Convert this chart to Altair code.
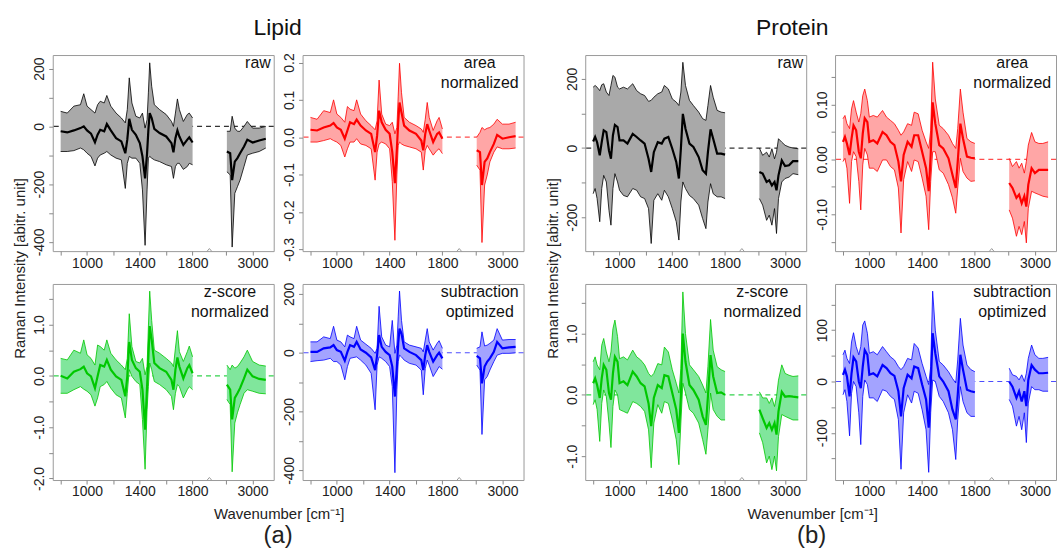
import altair as alt
import pandas as pd

# ---------------- data ----------------
LIPID_WN = [800, 850, 900, 950, 975, 1000, 1030, 1060, 1080, 1100, 1130, 1150, 1180,
            1220, 1260, 1290, 1305, 1320, 1340, 1370, 1400, 1420, 1440, 1455, 1465,
            1475, 1490, 1510, 1550, 1600, 1640, 1655, 1670, 1685, 1700, 1730, 1760,
            1775, 1800,
            2805, 2830, 2845, 2865, 2885, 2905, 2935, 2960, 3000, 3050, 3100]

PROTEIN_WN = [800, 815, 830, 850, 865, 880, 900, 920, 935, 950, 965, 985, 1000, 1030,
              1060, 1100, 1130, 1160, 1190, 1220, 1240, 1260, 1290, 1320, 1340, 1370,
              1400, 1430, 1450, 1465, 1480, 1500, 1530, 1560, 1600, 1630, 1655, 1670,
              1690, 1710, 1740, 1770, 1800,
              2805, 2830, 2860, 2880, 2900, 2920, 2935, 2950, 2975, 3000, 3030, 3060, 3100]

# Lipid - raw
lipid_raw_mean = [-17, -21, -14, -6, 0, -14, -25, -55, -29, -12, -17, 8, -14, -41, -52, -93, -46, 26, -12, -29,
                  -58, -104, -180, -93, -12, 46, 29, -9, -23, -35, -58, -90, -41, -14, -35, -64, -46, -38, -56,
                  -87, -93, -186, -122, -110, -93, -70, -46, -56, -49, -43]
lipid_raw_upper = [52, 46, 70, 75, 113, 70, 58, 46, 75, 87, 81, 107, 70, 46, 29, 12, 58, 168, 81, 35,
                   29, 46, -6, 23, 116, 220, 139, 75, 58, 41, 17, 0, 46, 95, 58, 17, 41, 46, 29,
                   -17, -17, 35, -6, -17, -17, 0, 17, -6, -6, 0]
lipid_raw_lower = [-87, -87, -84, -75, -81, -93, -104, -137, -110, -99, -93, -87, -99, -110, -116, -215, -128, -104, -110, -110,
                   -128, -220, -412, -220, -110, -104, -110, -116, -122, -133, -139, -180, -139, -128, -128, -149, -139, -128, -133,
                   -157, -168, -418, -232, -209, -186, -139, -99, -93, -87, -75]

# Lipid - area normalized
lipid_area_mean = [0.020, 0.018, 0.026, 0.031, 0.038, 0.026, 0.020, -0.004, 0.018, 0.040, 0.035, 0.047, 0.031, 0.018,
                   0.009, -0.040, 0.004, 0.071, 0.040, 0.020, 0.009, -0.040, -0.123, -0.031, 0.040, 0.093, 0.066,
                   0.031, 0.018, 0.009, -0.009, -0.035, 0.009, 0.035, 0.018, -0.013, 0.009, 0.013, -0.004,
                   -0.035, -0.040, -0.128, -0.066, -0.057, -0.040, -0.018, 0.006, -0.004, 0.000, 0.003]
lipid_area_upper = [0.053, 0.048, 0.071, 0.066, 0.100, 0.062, 0.053, 0.040, 0.082, 0.075, 0.071, 0.100, 0.062, 0.044,
                    0.031, 0.020, 0.044, 0.153, 0.062, 0.035, 0.031, 0.040, 0.009, 0.026, 0.110, 0.198, 0.119,
                    0.053, 0.040, 0.031, 0.022, 0.013, 0.048, 0.093, 0.053, 0.018, 0.044, 0.053, 0.022,
                    0.000, 0.013, 0.026, 0.020, 0.024, 0.026, 0.035, 0.048, 0.035, 0.035, 0.040]
lipid_area_lower = [-0.013, -0.013, -0.009, -0.004, -0.009, -0.013, -0.022, -0.053, -0.031, -0.013, -0.013, -0.004, -0.018,
                    -0.022, -0.031, -0.115, -0.040, -0.018, -0.013, -0.018, -0.031, -0.119, -0.276, -0.101, -0.022,
                    -0.013, -0.018, -0.022, -0.026, -0.031, -0.040, -0.088, -0.035, -0.022, -0.031, -0.048, -0.035,
                    -0.031, -0.044,
                    -0.075, -0.088, -0.282, -0.128, -0.101, -0.066, -0.040, -0.026, -0.031, -0.031, -0.029]

# Lipid - z-score normalized
lipid_z_mean = [0.00, -0.05, 0.08, 0.13, 0.18, 0.05, -0.01, -0.24, -0.01, 0.21, 0.18, 0.31, 0.12, -0.01, -0.08,
                -0.40, -0.01, 0.66, 0.31, 0.15, 0.08, -0.27, -1.05, -0.21, 0.37, 0.97, 0.70, 0.25, 0.15, 0.08,
                -0.08, -0.27, 0.12, 0.36, 0.18, -0.05, 0.15, 0.21, 0.05,
                -0.17, -0.27, -0.85, -0.43, -0.34, -0.24, -0.05, 0.12, -0.01, -0.06, -0.08]
lipid_z_upper = [0.34, 0.31, 0.50, 0.44, 0.70, 0.41, 0.34, 0.21, 0.60, 0.57, 0.50, 0.70, 0.44, 0.31, 0.21,
                 0.12, 0.34, 1.21, 0.57, 0.28, 0.25, 0.34, 0.02, 0.18, 0.95, 1.65, 1.08, 0.50, 0.44, 0.34,
                 0.25, 0.18, 0.54, 0.88, 0.47, 0.28, 0.47, 0.58, 0.37,
                 0.21, 0.12, 0.21, 0.15, 0.18, 0.25, 0.37, 0.50, 0.28, 0.21, 0.19]
lipid_z_lower = [-0.34, -0.34, -0.27, -0.21, -0.26, -0.30, -0.37, -0.59, -0.43, -0.21, -0.17, -0.11, -0.24, -0.37,
                 -0.43, -0.82, -0.34, 0.12, -0.01, -0.11, -0.17, -0.85, -1.82, -0.66, -0.21, 0.25, 0.12, -0.11,
                 -0.17, -0.27, -0.40, -0.66, -0.34, -0.17, -0.21, -0.43, -0.27, -0.21, -0.27,
                 -0.46, -0.56, -1.87, -0.92, -0.72, -0.56, -0.34, -0.27, -0.30, -0.34, -0.35]

# Lipid - subtraction optimized
lipid_sub_mean = [3, 3, 15, 18, 26, 9, 3, -27, 3, 26, 20, 37, 11, 0, -16, -59, -8, 60, 20, 3,
                  -8, -47, -149, -47, 32, 82, 65, 15, 3, -8, -25, -59, -8, 26, 3, -30, -8, 0, -19,
                  -11, -19, -104, -47, -30, -19, 3, 37, 15, 18, 20]
lipid_sub_upper = [37, 37, 54, 48, 90, 43, 37, 20, 60, 54, 48, 90, 43, 29, 15, -2, 15, 158, 54, 26,
                   20, 110, -2, 26, 122, 210, 110, 37, 26, 20, 15, 3, 43, 82, 37, 9, 32, 41, 15,
                   15, 20, 71, 23, 26, 32, 43, 82, 43, 45, 45]
lipid_sub_lower = [-30, -27, -25, -19, -30, -30, -42, -92, -47, -19, -16, -14, -25, -42, -70, -194, -42, -14, -19, -30,
                   -47, -115, -408, -126, -30, -8, -14, -25, -36, -42, -59, -143, -53, -25, -42, -81, -59, -47, -56,
                   -42, -59, -278, -92, -81, -59, -30, -8, -2, -2, 0]

# Protein - raw
protein_raw_mean = [19, 32, 17, -21, 17, 51, 46, -7, -31, 37, 67, 61, 22, 22, 13, 41, 32, 22, 13, -31, -69, -12,
                    17, 13, 27, 32, -2, -40, -88, -2, 99, 56, 13, 3, -26, -64, -74, -12, 54, 27, -16, -16, -19,
                    -69, -74, -98, -93, -108, -98, -122, -79, -36, -52, -50, -38, -38]
protein_raw_upper = [176, 181, 176, 166, 183, 186, 162, 152, 181, 210, 205, 176, 171, 176, 171, 186, 166, 157, 152,
                     135, 138, 147, 157, 162, 181, 171, 142, 133, 123, 162, 248, 181, 138, 123, 104, 85, 80, 123,
                     181, 147, 109, 104, 102,
                     0, -21, -12, -26, -2, -31, -12, 27, 17, 8, 3, 0, -2]
protein_raw_lower = [-132, -117, -146, -213, -117, -79, -98, -180, -223, -117, -74, -98, -122, -137, -141, -117,
                     -122, -141, -146, -175, -276, -151, -132, -151, -122, -141, -175, -213, -266, -156, -98, -117,
                     -137, -146, -165, -204, -233, -156, -103, -132, -141, -141, -146,
                     -146, -165, -209, -194, -223, -175, -247, -146, -98, -88, -84, -74, -77]

# Protein - area normalized
protein_area_mean = [0.032, 0.041, 0.029, 0.008, 0.038, 0.062, 0.053, 0.014, 0.002, 0.047, 0.075, 0.068, 0.032,
                     0.035, 0.029, 0.050, 0.044, 0.032, 0.026, -0.004, -0.040, 0.008, 0.032, 0.023, 0.044, 0.044,
                     0.014, -0.016, -0.058, 0.008, 0.104, 0.065, 0.026, 0.020, 0.002, -0.028, -0.052, -0.004,
                     0.065, 0.038, 0.005, 0.003, 0.002,
                     -0.043, -0.052, -0.070, -0.064, -0.080, -0.067, -0.086, -0.046, -0.016, -0.025, -0.019,
                     -0.019, -0.019]
protein_area_upper = [0.074, 0.080, 0.065, 0.056, 0.092, 0.107, 0.086, 0.068, 0.083, 0.116, 0.128, 0.107, 0.077,
                      0.080, 0.077, 0.089, 0.077, 0.071, 0.065, 0.053, 0.044, 0.050, 0.065, 0.062, 0.086, 0.083,
                      0.053, 0.032, 0.020, 0.053, 0.177, 0.110, 0.062, 0.056, 0.044, 0.029, 0.020, 0.056, 0.128,
                      0.086, 0.038, 0.032, 0.029,
                      0.002, -0.013, -0.004, -0.016, -0.007, -0.025, -0.004, 0.026, 0.049, 0.032, 0.029, 0.029, 0.032]
protein_area_lower = [-0.004, 0.002, -0.016, -0.080, -0.004, 0.014, 0.005, -0.040, -0.092, -0.010, 0.020, 0.008,
                      -0.016, -0.016, -0.022, -0.001, -0.001, -0.013, -0.019, -0.052, -0.134, -0.037, -0.004,
                      -0.022, -0.001, -0.004, -0.034, -0.067, -0.128, -0.040, 0.014, 0.014, -0.019, -0.025,
                      -0.046, -0.070, -0.098, -0.052, 0.002, -0.022, -0.034, -0.040, -0.039,
                      -0.092, -0.107, -0.140, -0.122, -0.137, -0.113, -0.152, -0.089, -0.058, -0.061, -0.064,
                      -0.067, -0.069]

# Protein - z-score normalized
protein_z_mean = [0.19, 0.27, 0.16, -0.05, 0.27, 0.49, 0.41, 0.03, -0.08, 0.35, 0.62, 0.54, 0.19, 0.22, 0.16,
                  0.38, 0.30, 0.19, 0.14, -0.14, -0.51, -0.05, 0.16, 0.11, 0.32, 0.30, 0.03, -0.24, -0.62, -0.03,
                  1.00, 0.54, 0.16, 0.08, -0.08, -0.35, -0.49, -0.03, 0.65, 0.30, 0.03, 0.04, 0.00,
                  -0.24, -0.38, -0.54, -0.46, -0.57, -0.46, -0.65, -0.27, 0.05, -0.03, -0.02, -0.03, -0.04]
protein_z_upper = [0.54, 0.62, 0.49, 0.41, 0.81, 0.92, 0.70, 0.54, 0.70, 1.08, 1.22, 0.95, 0.59, 0.62, 0.57,
                   0.73, 0.62, 0.57, 0.49, 0.35, 0.30, 0.35, 0.51, 0.49, 0.78, 0.70, 0.41, 0.19, 0.03, 0.43,
                   1.68, 1.00, 0.49, 0.41, 0.30, 0.16, 0.03, 0.46, 1.23, 0.73, 0.46, 0.41, 0.38,
                   0.05, -0.05, -0.05, -0.14, -0.05, -0.19, -0.03, 0.24, 0.49, 0.35, 0.32, 0.30, 0.31]
protein_z_lower = [-0.16, -0.08, -0.24, -0.76, -0.14, 0.08, -0.03, -0.46, -0.86, -0.19, 0.08, 0.00, -0.24, -0.27,
                   -0.30, -0.11, -0.14, -0.19, -0.27, -0.57, -1.19, -0.46, -0.16, -0.30, -0.11, -0.14, -0.41,
                   -0.73, -1.14, -0.46, 0.19, 0.03, -0.24, -0.30, -0.46, -0.73, -0.97, -0.57, 0.03, -0.24,
                   -0.35, -0.41, -0.41,
                   -0.62, -0.78, -1.11, -1.00, -1.22, -1.00, -1.24, -0.68, -0.32, -0.35, -0.38, -0.41, -0.41]

# Protein - subtraction optimized
protein_sub_mean = [13, 23, 10, -29, 16, 47, 39, 0, -13, 29, 61, 52, 13, 16, 10, 32, 26, 16, 11, -19, -68, -13,
                    13, 6, 29, 26, -6, -35, -90, -10, 94, 55, 10, 0, -19, -55, -74, -26, 52, 23, -16, -19, -21,
                    0, -10, -32, -19, -39, -19, -48, 3, 32, 23, 16, 16, 17]
protein_sub_upper = [52, 61, 45, 35, 77, 95, 68, 52, 68, 110, 118, 94, 55, 58, 52, 68, 58, 48, 42, 29, 23, 29,
                     45, 42, 74, 65, 35, 10, -6, 29, 176, 100, 39, 32, 19, 6, -3, 42, 123, 71, 32, 23, 19,
                     26, 13, 10, 3, 13, 0, 16, 45, 71, 52, 45, 45, 47]
protein_sub_lower = [-26, -16, -39, -106, -23, 0, -10, -61, -123, -29, 3, -6, -32, -32, -39, -16, -19, -29, -35,
                     -74, -171, -61, -26, -42, -19, -23, -55, -94, -177, -61, 3, 0, -29, -39, -61, -94, -152,
                     -74, -10, -39, -61, -68, -68,
                     -35, -48, -87, -68, -94, -61, -119, -42, -10, -16, -16, -19, -19]

# tick labels
X_TICK_WN = [800, 1000, 1200, 1400, 1600, 1800, 2800, 3000]
X_LABELED = [1000, 1400, 1800, 3000]

# ---------------- styling / layout ----------------
FONT = "Liberation Sans, Arial, sans-serif"
W, H = 222, 197
BREAK_SHIFT = 745          # high-wavenumber part drawn after a compressed axis break
X_DOMAIN = [740, 2415]
TXT = "#222222"


def xpos(w):
    return w if w <= 1800 else w - BREAK_SHIFT


X_TICKS = [xpos(w) for w in X_TICK_WN]
BREAK_X = (1800 + xpos(2800)) / 2
X_LABEL_EXPR = " : ".join(
    "datum.value == %d ? '%d'" % (xpos(w), w) for w in X_LABELED) + " : ''"


def panel(wn, mean, lo, hi, ydom, yvals, ylab, yfmt, line_c, dash_c, fill_c, label, label_right,
          ytitle=None, xtitle=None, title=None):
    df = pd.DataFrame({"wn": wn, "mean": mean, "lo": lo, "hi": hi})
    base = alt.Chart(df).transform_calculate(
        xp="datum.wn > 2000 ? datum.wn - %d : datum.wn" % BREAK_SHIFT,
        seg="datum.wn > 2000 ? 'high' : 'fp'",
    )

    xkw = dict(values=X_TICKS, labelExpr=X_LABEL_EXPR, tickSize=4, tickColor="#888888",
               domain=False, grid=False, labelFont=FONT, labelFontSize=14, labelColor=TXT,
               labelPadding=1, labelFlush=False, labelOverlap=False)
    if xtitle is not None:
        txt, tx, ty, fs = xtitle
        xkw.update(title=txt, titleX=tx, titleY=ty, titleFont=FONT, titleFontSize=fs,
                   titleFontWeight="normal", titleColor=TXT, titleAlign="center",
                   titleBaseline="alphabetic")
    else:
        xkw.update(title=None)
    xaxis = alt.Axis(**xkw)
    xscale = alt.Scale(domain=X_DOMAIN, nice=False, zero=False)
    xenc = alt.X("xp:Q", scale=xscale, axis=xaxis)

    lab_list = "[" + ",".join(repr(v) for v in ylab) + "]"
    ykw = dict(values=yvals, format=yfmt,
               labelExpr="indexof(%s, datum.value) >= 0 ? replace(datum.label, '\u2212', '-') : ''" % lab_list,
               tickSize=4, tickColor="#888888", domain=False, grid=False, labelFont=FONT,
               labelFontSize=14, labelColor=TXT, labelAngle=-90, labelAlign="center",
               labelBaseline="bottom", labelPadding=2, labelFlush=False, labelOverlap=False)
    if ytitle is not None:
        txt, tx, ty = ytitle
        ykw.update(title=txt, titleX=tx, titleY=ty, titleAngle=-90, titleFont=FONT,
                   titleFontSize=15, titleFontWeight="normal", titleColor=TXT,
                   titleAlign="center", titleBaseline="middle")
    else:
        ykw.update(title=None)
    yaxis = alt.Axis(**ykw)
    yscale = alt.Scale(domain=ydom, nice=False, zero=False)

    def yenc(field):
        return alt.Y(field, type="quantitative", scale=yscale, axis=yaxis)

    zero = alt.Chart(pd.DataFrame({"z": [0]})).mark_rule(
        color=dash_c, strokeDash=[5, 4], strokeWidth=1.2).encode(y=yenc("z"))
    band = base.mark_area(color=fill_c, opacity=1).encode(
        x=xenc, y=yenc("lo"), y2=alt.Y2("hi:Q"), detail="seg:N")
    up = base.mark_line(color=line_c, strokeWidth=0.8).encode(x=xenc, y=yenc("hi"), detail="seg:N")
    dn = base.mark_line(color=line_c, strokeWidth=0.8).encode(x=xenc, y=yenc("lo"), detail="seg:N")
    mn = base.mark_line(color=line_c, strokeWidth=2.2).encode(x=xenc, y=yenc("mean"), detail="seg:N")
    brk = alt.Chart(pd.DataFrame({"b": [BREAK_X]})).mark_point(
        shape="M-1,0.6L0,-0.6L1,0.6", filled=False, stroke="#999999", strokeWidth=1,
        size=28, opacity=1).encode(x=alt.X("b:Q", scale=xscale, axis=xaxis), y=alt.value(H - 1))
    if label_right:
        txt = alt.Chart(pd.DataFrame({"t": [label]})).mark_text(
            align="right", baseline="alphabetic", font=FONT, fontSize=16, color="#111111"
        ).encode(x=alt.value(W - 3), y=alt.value(13), text="t:N")
    else:
        txt = alt.Chart(pd.DataFrame({"t": [label]})).mark_text(
            align="center", baseline="alphabetic", font=FONT, fontSize=16, color="#111111",
            lineBreak="\n", lineHeight=20
        ).encode(x=alt.value(W - 44), y=alt.value(13), text="t:N")

    ch = alt.layer(zero, band, up, dn, mn, brk, txt).properties(width=W, height=H)
    if title is not None:
        txt_t, dx = title
        ch = ch.properties(title=alt.TitleParams(
            text=txt_t, anchor="middle", frame="group", dx=dx, offset=-3, baseline="alphabetic",
            font=FONT, fontSize=23, fontWeight="normal", color="#111111"))
    return ch


YT = "Raman Intensity [abitr. unit]"
XT = "Wavenumber [cm\u207b\u00b9]"

BLACK, BLACK_D, GRAY = "#000000", "#333333", "#a9a9a9"
RED, RED_D, PINK = "#ff0000", "#ff4d4d", "#ffa6a6"
GREEN, GREEN_D, LGREEN = "#00c800", "#33d24d", "#80e69c"
BLUE, BLUE_D, LBLUE = "#0000ff", "#4d4dff", "#a3a3ff"

p1 = panel(LIPID_WN, lipid_raw_mean, lipid_raw_lower, lipid_raw_upper, [-432, 247],
           [-400, -300, -200, -100, 0, 100, 200], [-400, -200, 0, 200], "d",
           BLACK, BLACK_D, GRAY, "raw", True, ytitle=(YT, -33, 214), title=("Lipid", 115))
p2 = panel(LIPID_WN, lipid_area_mean, lipid_area_lower, lipid_area_upper, [-0.305, 0.22],
           [-0.3, -0.2, -0.1, 0.0, 0.1, 0.2], [-0.3, -0.2, -0.1, 0.0, 0.1, 0.2], ".1f",
           RED, RED_D, PINK, "area\nnormalized", False)
p3 = panel(LIPID_WN, lipid_z_mean, lipid_z_lower, lipid_z_upper, [-2.03, 1.79],
           [-2.0, -1.5, -1.0, -0.5, 0.0, 0.5, 1.0, 1.5], [-2.0, -1.0, 0.0, 1.0], ".1f",
           GREEN, GREEN_D, LGREEN, "z-score\nnormalized", False, xtitle=(XT, 227, 39, 15))
p4 = panel(LIPID_WN, lipid_sub_mean, lipid_sub_lower, lipid_sub_upper, [-433, 234],
           [-400, -300, -200, -100, 0, 100, 200], [-400, -200, 0, 200], "d",
           BLUE, BLUE_D, LBLUE, "subtraction\noptimized", False, xtitle=("(a)", -25, 63, 24))

p5 = panel(PROTEIN_WN, protein_raw_mean, protein_raw_lower, protein_raw_upper, [-298, 269],
           [-200, -100, 0, 100, 200], [-200, 0, 200], "d",
           BLACK, BLACK_D, GRAY, "raw", True, ytitle=(YT, -33, 214), title=("Protein", 97))
p6 = panel(PROTEIN_WN, protein_area_mean, protein_area_lower, protein_area_upper, [-0.167, 0.19],
           [-0.15, -0.1, -0.05, 0.0, 0.05, 0.1, 0.15], [-0.1, 0.0, 0.1], ".2f",
           RED, RED_D, PINK, "area\nnormalized", False)
p7 = panel(PROTEIN_WN, protein_z_mean, protein_z_lower, protein_z_upper, [-1.39, 1.81],
           [-1.0, -0.5, 0.0, 0.5, 1.0, 1.5], [-1.0, 0.0, 1.0], ".1f",
           GREEN, GREEN_D, LGREEN, "z-score\nnormalized", False, xtitle=(XT, 228, 39, 15))
p8 = panel(PROTEIN_WN, protein_sub_mean, protein_sub_lower, protein_sub_upper, [-192, 190],
           [-150, -100, -50, 0, 50, 100, 150], [-100, 0, 100], "d",
           BLUE, BLUE_D, LBLUE, "subtraction\noptimized", False, xtitle=("(b)", -24, 63, 24))

spacer = alt.Chart(pd.DataFrame({"s": [0]})).mark_point(opacity=0).encode(
    x=alt.value(0), y=alt.value(0)).properties(
    width=4, height=H, view=alt.ViewBackground(stroke="transparent"))

chart = alt.concat(p1, p2, spacer, p5, p6, p3, p4, spacer, p7, p8, columns=5,
                   spacing={"row": 33, "column": 29}, bounds="flush", align="each").properties(
    padding={"left": 12, "top": 15, "right": 0, "bottom": 0}
).configure_view(stroke="#999999", strokeWidth=1)

chart.save("out.html", embed_options={"renderer": "svg", "actions": False})
